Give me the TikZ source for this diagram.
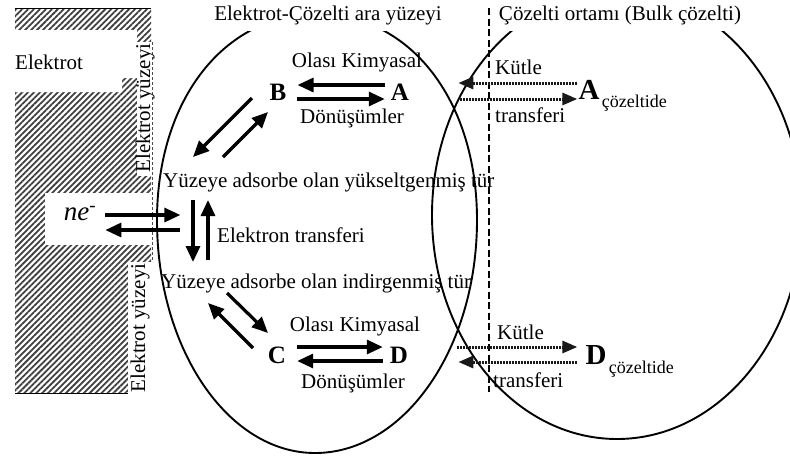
\documentclass[tikz,border=0pt]{standalone}
\usepackage{fontspec}
\setmainfont{Liberation Serif}
\usetikzlibrary{arrows.meta,patterns.meta}
\begin{document}
\begin{tikzpicture}[x=1pt,y=-1pt,
  txt/.style={font=\fontsize{21}{24}\selectfont, inner sep=1pt},
  letter/.style={font=\fontsize{25}{28}\selectfont\bfseries, inner sep=1pt},
  bigletter/.style={font=\fontsize{29}{31}\selectfont\bfseries, inner sep=1pt},
  subtxt/.style={font=\fontsize{18}{20}\selectfont, inner sep=1pt},
  arr/.style={line width=3.2pt, -{Triangle[length=16pt,width=14pt]}},
  darr/.style={line width=3pt, black!90, dash pattern=on 2pt off 1pt, -{Triangle[length=15pt,width=12pt]}},
  outline/.style={line width=1.9pt},
  hatch/.style={pattern={Lines[angle=45,distance=4.2pt,line width=1.8pt]}, pattern color=black!75},
]
\useasboundingbox (0,0) rectangle (790,459);

% electrode
\fill[hatch] (15,8) rectangle (151,393);
\draw[line width=1pt] (15,8) -- (151,8);
\draw[line width=1pt] (15,393) -- (128,393);
\fill[white] (0,30) -- (137,30) -- (137,78) -- (122,78) -- (122,92) -- (0,92) -- cycle;
\fill[white] (137,42) rectangle (153,176);
\fill[white] (45,193) rectangle (153,245);
\fill[white] (128,262) rectangle (153,396);
\draw[black!70, line width=0.6pt, densely dashed] (152,42) -- (152,262);

\node[txt, anchor=west] (elek) at (14,62) {Elektrot};
\node[txt, rotate=90] (ey1) at (145,108) {Elektrot yüzeyi};
\node[txt, rotate=90] (ey2) at (140,328) {Elektrot yüzeyi};

% regions
\draw[outline] (157,220) .. controls (157,349) and (228,453) .. (315,453)
  .. controls (404,453) and (477,349) .. (477,220)
  .. controls (477,100) and (410,14) .. (317,14)
  .. controls (224,14) and (157,100) .. cycle;
\draw[outline] (617,215) ellipse [x radius=185, y radius=224];

\node[txt, fill=white, inner ysep=6pt] (t1) at (328,15) {Elektrot-Çözelti ara yüzeyi};
\node[txt, fill=white, inner ysep=6pt] (t2) at (620,15) {Çözelti ortamı (Bulk çözelti)};

\coordinate (dtop) at (489,8);
\coordinate (dbot) at (489,392);
\draw[line width=2.5pt, dash pattern=on 7pt off 3.5pt] (dtop) -- (dbot);

% interface species
\node[txt] (ok1) at (357,62) {Olası Kimyasal};
\node[letter] (B) at (278,92) {B};
\node[letter] (A) at (400,92) {A};
\node[txt] (dn1) at (352,118) {Dönüşümler};
\node[txt, anchor=base west] (ox) at (162,187) {Yüzeye adsorbe olan yükseltgenmiş tür};
\node[txt, anchor=base west] (et) at (216,242) {Elektron transferi};
\node[txt, anchor=base west] (red) at (160,288) {Yüzeye adsorbe olan indirgenmiş tür};
\node[txt] (ok2) at (355,326) {Olası Kimyasal};
\node[letter] (C) at (277,355) {C};
\node[letter] (D) at (399,355) {D};
\node[txt] (dn2) at (353,383) {Dönüşümler};
\node[font=\fontsize{27}{30}\selectfont, inner sep=1pt] (ne) at (80,214) {\itshape ne\textsuperscript{-}};

% bulk
\node[txt, anchor=west] (k1) at (494,67) {Kütle};
\node[txt, anchor=west] (tr1) at (494,115) {transferi};
\node[txt, anchor=west] (k2) at (496,332) {Kütle};
\node[txt, anchor=west] (tr2) at (492,380) {transferi};
\node[bigletter] (Asol) at (589,90) {A};
\node[subtxt, anchor=west] (Asub) at ([shift={(0,13)}]Asol.east) {çözeltide};
\node[bigletter] (Dsol) at (596,355) {D};
\node[subtxt, anchor=west] (Dsub) at ([shift={(0,14)}]Dsol.east) {çözeltide};

% B <-> A
\draw[arr] ([shift={(-5,-7)}]A.west) -- ([shift={(10,-7)}]B.east);
\draw[arr] ([shift={(9,7)}]B.east) -- ([shift={(-5,7)}]A.west);
% C <-> D
\draw[arr] ([shift={(10,-8)}]C.east) -- ([shift={(-6,-8)}]D.west);
\draw[arr] ([shift={(-6,6)}]D.west) -- ([shift={(10,6)}]C.east);
% B <-> ox
\draw[arr] ([shift={(-26,6)}]B.center) -- ([shift={(31,-30)}]ox.base west);
\draw[arr] ([shift={(61,-30)}]ox.base west) -- ([shift={(-10,20)}]B.center);
% ox <-> red
\draw[arr] ([shift={(31,13)}]ox.base west) -- ([shift={(33,-26)}]red.base west);
\draw[arr] ([shift={(48,-28)}]red.base west) -- ([shift={(46,13)}]ox.base west);
% red <-> C
\draw[arr] ([shift={(-24,-7)}]C.center) -- ([shift={(48,15)}]red.base west);
\draw[arr] ([shift={(67,5)}]red.base west) -- ([shift={(-9,-22)}]C.center);
% ne
\draw[arr] ([shift={(8,1)}]ne.east) -- ([shift={(83,1)}]ne.east);
\draw[arr] ([shift={(83,16)}]ne.east) -- ([shift={(8,16)}]ne.east);
% mass transfer
\draw[darr] ([shift={(0,-7)}]Asol.west) -- ([shift={(-119,-7)}]Asol.west);
\draw[darr] ([shift={(-117,9)}]Asol.west) -- ([shift={(0,9)}]Asol.west);
\draw[darr] ([shift={(-127,-8)}]Dsol.west) -- ([shift={(-7,-8)}]Dsol.west);
\draw[darr] ([shift={(-7,7)}]Dsol.west) -- ([shift={(-126,7)}]Dsol.west);
\end{tikzpicture}
\end{document}
